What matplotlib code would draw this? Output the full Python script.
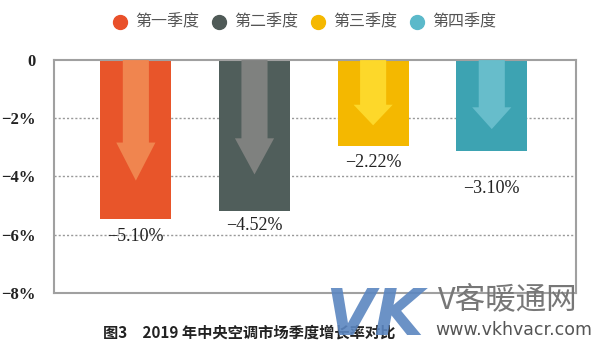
import matplotlib
matplotlib.use("Agg")
import matplotlib.pyplot as plt
from matplotlib.patches import Polygon

plt.rcParams['font.family'] = ['Noto Sans CJK SC', 'DejaVu Sans']

categories = ["第一季度", "第二季度", "第三季度", "第四季度"]
bar_values = [-5.45, -5.17, -2.95, -3.12]
value_labels = ["−5.10%", "−4.52%", "−2.22%", "−3.10%"]
yticks = [0, -2, -4, -6, -8]
ytick_labels = ["0", "−2%", "−4%", "−6%", "−8%"]
bar_colors = ["#E8552A", "#505E5B", "#F4B800", "#3DA3B2"]
arrow_colors = ["#F0854F", "#7F817F", "#FDD82A", "#67BDCB"]
legend_colors = ["#E9502A", "#4F5A57", "#F5B800", "#5BB9CA"]
caption = "图3　2019 年中央空调市场季度增长率对比"

W, H = 600, 362
fig = plt.figure(figsize=(6, 3.62), dpi=100)
ax = fig.add_axes([0.09, 0.191, 0.87, 0.643])

x = list(range(len(categories)))
bw = 0.6
ax.bar(x, bar_values, width=bw, color=bar_colors, zorder=2)

shaft_w = 0.22
head_w = 0.33
for xi, v, c in zip(x, bar_values, arrow_colors):
    tip = 0.76 * v
    head_start = tip - 0.24 * v
    pts = [(xi - shaft_w / 2, 0), (xi + shaft_w / 2, 0),
           (xi + shaft_w / 2, head_start), (xi + head_w / 2, head_start),
           (xi, tip), (xi - head_w / 2, head_start),
           (xi - shaft_w / 2, head_start)]
    ax.add_patch(Polygon(pts, closed=True, color=c, zorder=3, lw=0))

label_offsets = [-0.6, -0.53, -0.56, -1.31]
for xi, v, lab, off in zip(x, bar_values, value_labels, label_offsets):
    ax.text(xi, v + off, lab, ha='center', va='center',
            family=['Liberation Serif'], fontsize=13, color='#222222', zorder=4)

ax.set_xlim(-0.69, 3.71)
ax.set_ylim(-8, 0)
ax.set_yticks(yticks)
ax.set_yticklabels(ytick_labels, family=['Liberation Serif'], fontsize=12,
                   fontweight='bold', color='#222222')
ax.set_xticks([])
ax.tick_params(axis='y', length=0, pad=13)
for yv in [-2, -4, -6]:
    ax.axhline(yv, color='#999999', lw=1, ls=(0, (1.5, 1.5)), zorder=1)
for s in ax.spines.values():
    s.set_color('#A0A0A0')
    s.set_linewidth(1.5)

# legend (manual placement)
marker_x = [120, 219, 318, 417]
ly = 1 - 22 / H
for mx, c, lab in zip(marker_x, legend_colors, categories):
    fig.add_artist(plt.Line2D([mx / W], [ly], marker='o', markersize=10,
                              markerfacecolor=c, markeredgecolor=c, ls='none',
                              transform=fig.transFigure))
    fig.text((mx + 15) / W, ly, lab, ha='left', va='center', fontsize=11.5,
             color='#555555')

fig.text(249 / W, 1 - 333 / H, caption, ha='center', va='center', fontsize=11,
         fontweight='bold', color='#222222')

# watermark
fig.text(375 / W, 1 - 317 / H, "VK", ha='center', va='center', fontsize=46,
         fontweight='bold', style='italic', color='#5B86C0', alpha=0.9,
         family=['DejaVu Sans'])
fig.text(508 / W, 1 - 300 / H, "V客暖通网", ha='center', va='center', fontsize=22,
         color='#777777')
fig.text(514 / W, 1 - 330 / H, "www.vkhvacr.com", ha='center', va='center',
         fontsize=12.5, color='#555555', family=['DejaVu Sans'])

fig.savefig("out.png", dpi=100)
